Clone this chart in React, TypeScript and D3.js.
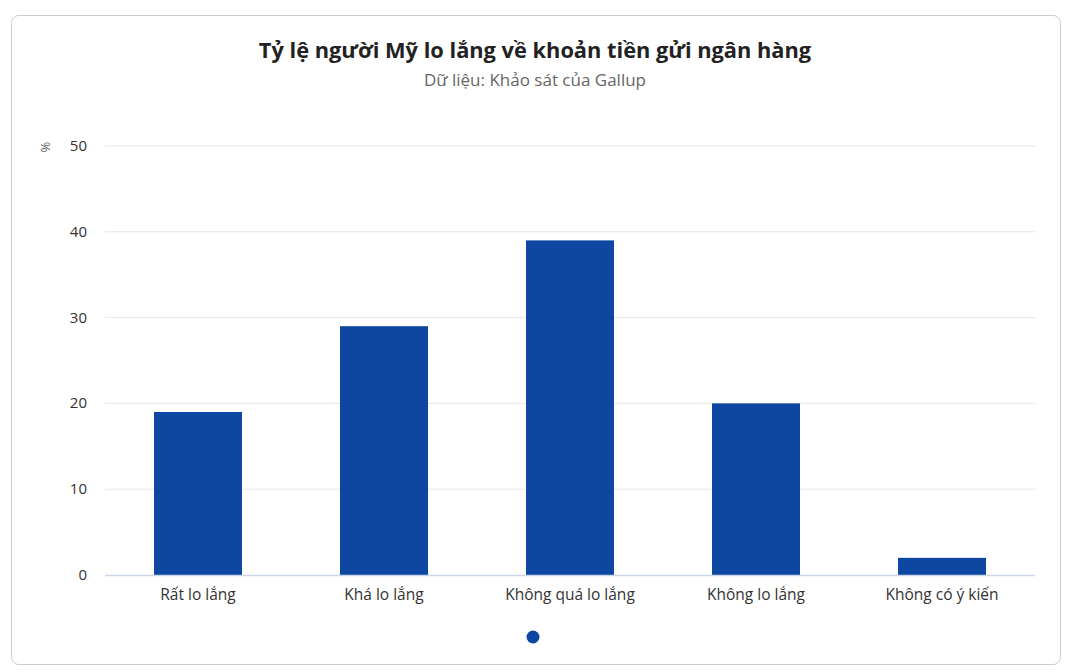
import React from "react";
import * as d3 from "d3";

const categories = ["Rất lo lắng", "Khá lo lắng", "Không quá lo lắng", "Không lo lắng", "Không có ý kiến"];
const values = [19, 29, 39, 20, 2];
const yTicks = [0, 10, 20, 30, 40, 50];
const title = "Tỷ lệ người Mỹ lo lắng về khoản tiền gửi ngân hàng";
const subtitle = "Dữ liệu: Khảo sát của Gallup";

const W = 1071;
const H = 672;
const FONT = "'Open Sans', Lato, 'Noto Sans', sans-serif";

export default function App() {
  const left = 105, right = 1035, top = 146, bottom = 575;
  const x = d3.scaleBand<string>().domain(categories).range([left, right]).paddingInner(0.527).paddingOuter(0.2635);
  const y = d3.scaleLinear().domain([0, 50]).range([bottom, top]);
  return (
    <svg width={W} height={H} style={{ position: "absolute", left: 0, top: 0 }} fontFamily={FONT}>
      <rect x={11.5} y={15.5} width={1049} height={649} rx={7} fill="#fff" stroke="#cccccc" />
      <text x={535} y={58} textAnchor="middle" fontSize={21.8} fontWeight={700} fill="#222">{title}</text>
      <text x={535} y={86} textAnchor="middle" fontSize={17} fill="#666">{subtitle}</text>
      {yTicks.map((t) => (
        <g key={t}>
          {t !== 0 && <line x1={left} x2={right} y1={y(t)} y2={y(t)} stroke="#e6e6e6" strokeWidth={1} />}
          <text x={87} y={y(t) + 5} textAnchor="end" fontSize={15} fill="#333">{t}</text>
        </g>
      ))}
      <text transform={`translate(50,147) rotate(-90)`} textAnchor="middle" fontSize={13} fill="#666">%</text>
      {categories.map((c, i) => (
        <rect key={c} x={x(c)} y={y(values[i])} width={x.bandwidth()} height={bottom - y(values[i])} fill="#0e47a1" />
      ))}
      <line x1={left} x2={right} y1={bottom + 0.5} y2={bottom + 0.5} stroke="#ccd6eb" strokeWidth={1.5} />
      {categories.map((c) => (
        <text key={c} x={(x(c) as number) + x.bandwidth() / 2} y={600} textAnchor="middle" fontSize={15.5} fill="#333">{c}</text>
      ))}
      <circle cx={533} cy={637} r={6.5} fill="#0e47a1" />
    </svg>
  );
}
